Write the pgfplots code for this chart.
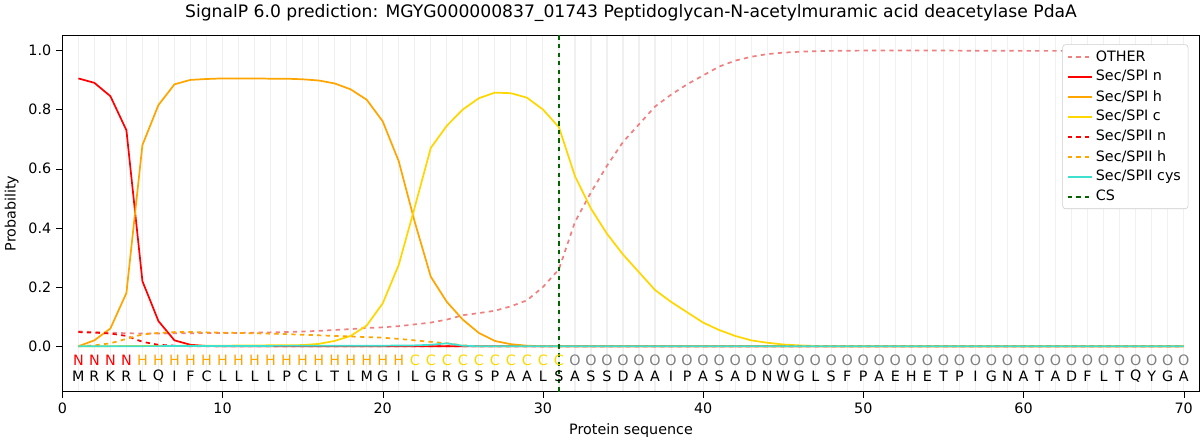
\documentclass[border=0pt]{standalone}
\usepackage{pgfplots}
\pgfplotsset{compat=1.18}
\usepackage{fontspec}
\setmainfont{DejaVu Sans}
\definecolor{cO}{HTML}{F08080}
\definecolor{cN}{HTML}{FF0000}
\definecolor{cH}{HTML}{FFA500}
\definecolor{cC}{HTML}{FFD700}
\definecolor{cY}{HTML}{40E0D0}
\definecolor{cS}{HTML}{006400}
\definecolor{lblN}{HTML}{FF0000}
\definecolor{lblH}{HTML}{FFA500}
\definecolor{lblC}{HTML}{FFD700}
\definecolor{lblO}{HTML}{808080}
\begin{document}
\begin{tikzpicture}
\begin{axis}[
  scale only axis, width=27.95cm, height=8.75cm,
  xmin=0, xmax=71, ymin=-0.153, ymax=1.05,
  xtick={0,10,...,70}, ytick={0,0.2,...,1.0},
  xtick pos=bottom, ytick pos=left,
  yticklabel style={/pgf/number format/.cd,fixed,fixed zerofill,precision=1},
  /pgf/number format/assume math mode=true,
  minor xtick={1,...,70}, xminorgrids, minor grid style={gray!12,line width=0.8pt},
  minor tick length=0pt,
  tick align=outside, tick style={black},
  xlabel={Protein sequence}, ylabel={Probability},
  title={SignalP 6.0 prediction: MGYG000000837\_01743 Peptidoglycan-N-acetylmuramic acid deacetylase PdaA},
  title style={font=\large}, label style={font=\normalsize}, tick label style={font=\normalsize},
  legend style={at={(0.99,0.975)},anchor=north east,font=\normalsize,draw=gray!40,rounded corners=2pt,row sep=1pt},
  legend cell align=left,
  every axis plot/.append style={line width=1.2pt},
]
\addplot[cO,dashed] coordinates {(1,0.05)(2,0.048)(3,0.046)(4,0.044)(5,0.043)(6,0.043)(7,0.044)(8,0.044)(9,0.045)(10,0.045)(11,0.045)(12,0.046)(13,0.047)(14,0.048)(15,0.05)(16,0.052)(17,0.055)(18,0.058)(19,0.062)(20,0.064)(21,0.068)(22,0.074)(23,0.08)(24,0.09)(25,0.105)(26,0.112)(27,0.12)(28,0.135)(29,0.155)(30,0.2)(31,0.26)(32,0.42)(33,0.52)(34,0.61)(35,0.69)(36,0.75)(37,0.81)(38,0.85)(39,0.885)(40,0.915)(41,0.945)(42,0.965)(43,0.978)(44,0.987)(45,0.992)(46,0.995)(47,0.997)(48,0.998)(50,0.999)(55,0.999)(60,0.998)(65,0.998)(70,0.999)};
\addlegendentry{OTHER}
\addplot[cN] coordinates {(1,0.905)(2,0.89)(3,0.845)(4,0.73)(5,0.22)(6,0.085)(7,0.02)(8,0.005)(9,0.001)(10,0)(70,0)};
\addlegendentry{Sec/SPI n}
\addplot[cH] coordinates {(1,0)(2,0.02)(3,0.06)(4,0.18)(5,0.68)(6,0.815)(7,0.885)(8,0.9)(9,0.903)(10,0.905)(11,0.905)(12,0.905)(13,0.904)(14,0.904)(15,0.902)(16,0.898)(17,0.888)(18,0.868)(19,0.833)(20,0.76)(21,0.625)(22,0.42)(23,0.235)(24,0.15)(25,0.09)(26,0.045)(27,0.018)(28,0.007)(29,0.002)(30,0)(70,0)};
\addlegendentry{Sec/SPI h}
\addplot[cC] coordinates {(1,0)(10,0.002)(15,0.004)(16,0.008)(17,0.018)(18,0.035)(19,0.07)(20,0.145)(21,0.275)(22,0.47)(23,0.67)(24,0.745)(25,0.8)(26,0.838)(27,0.857)(28,0.855)(29,0.84)(30,0.8)(31,0.74)(32,0.575)(33,0.465)(34,0.38)(35,0.31)(36,0.25)(37,0.19)(38,0.15)(39,0.115)(40,0.08)(41,0.055)(42,0.035)(43,0.02)(44,0.012)(45,0.006)(46,0.003)(47,0.001)(48,0)(70,0)};
\addlegendentry{Sec/SPI c}
\addplot[cN,dashed] coordinates {(1,0.048)(2,0.046)(3,0.043)(4,0.035)(5,0.015)(6,0.005)(7,0.002)(8,0)(70,0)};
\addlegendentry{Sec/SPII n}
\addplot[cH,dashed] coordinates {(1,0)(2,0.003)(3,0.01)(4,0.025)(5,0.04)(6,0.045)(7,0.048)(8,0.048)(9,0.047)(10,0.046)(12,0.044)(14,0.041)(16,0.037)(18,0.033)(20,0.029)(21,0.025)(22,0.02)(23,0.015)(24,0.01)(25,0.003)(26,0)(70,0)};
\addlegendentry{Sec/SPII h}
\addplot[cY] coordinates {(1,0)(20,0.002)(22,0.003)(23,0.005)(24,0.01)(25,0.002)(26,0)(70,0)};
\addlegendentry{Sec/SPII cys}
\addplot[cS,dashed,forget plot] coordinates {(31,-0.153)(31,1.05)};
\addlegendimage{cS,dashed,line width=1.2pt}
\addlegendentry{CS}
\foreach \i/\a/\c in {1/M/N,2/R/N,3/K/N,4/R/N,5/L/H,6/Q/H,7/I/H,8/F/H,9/C/H,10/L/H,11/L/H,12/L/H,13/L/H,14/P/H,15/C/H,16/L/H,17/T/H,18/L/H,19/M/H,20/G/H,21/I/H,22/L/C,23/G/C,24/R/C,25/G/C,26/S/C,27/P/C,28/A/C,29/A/C,30/L/C,31/S/C,32/A/O,33/S/O,34/S/O,35/D/O,36/A/O,37/A/O,38/I/O,39/P/O,40/A/O,41/S/O,42/A/O,43/D/O,44/N/O,45/W/O,46/G/O,47/L/O,48/S/O,49/F/O,50/P/O,51/A/O,52/E/O,53/H/O,54/E/O,55/T/O,56/P/O,57/I/O,58/G/O,59/N/O,60/A/O,61/T/O,62/A/O,63/D/O,64/F/O,65/L/O,66/T/O,67/Q/O,68/Y/O,69/G/O,70/A/O} {
  \edef\tmp{\noexpand\node[font=\noexpand\normalsize,text=lbl\c] at (axis cs:\i,-0.048) {\c};
    \noexpand\node[font=\noexpand\normalsize] at (axis cs:\i,-0.10) {\a};}
  \tmp
}
\end{axis}
\end{tikzpicture}
\end{document}
